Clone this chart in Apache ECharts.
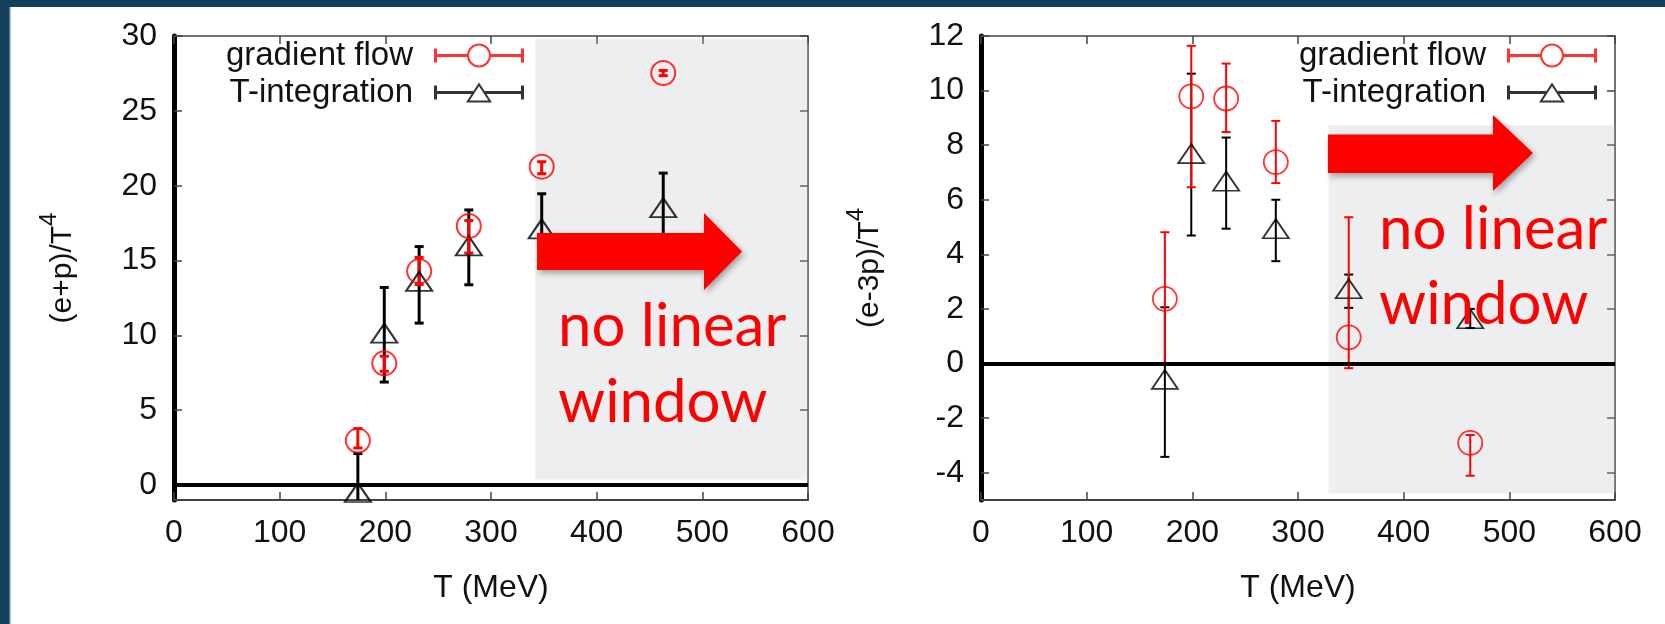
<!DOCTYPE html>
<html>
<head>
<meta charset="utf-8">
<script src="https://cdn.jsdelivr.net/npm/echarts@6/dist/echarts.min.js"></script>
<style>
  html, body { margin: 0; padding: 0; background: #fff; }
  #main { width: 1665px; height: 624px; }
</style>
</head>
<body>
<div id="main"></div>
<script>
// temperatures (MeV), shared by both panels
const temps = [174, 199, 232, 279, 348, 463];

// left panel: (e+p)/T^4
const gfEp = [2.97, 8.13, 14.29, 17.31, 21.27, 27.53];
const gfEpLow = [2.48, 7.6, 13.4, 15.5, 20.8, 27.35];
const gfEpHigh = [3.77, 8.6, 15.2, 17.67, 21.6, 27.7];
const tiEp = [-0.5, 10.15, 13.6, 15.98, 17.12, 18.53];
const tiEpLow = [-3.0, 6.88, 10.82, 13.38, 14.7, 16.2];
const tiEpHigh = [2.1, 13.2, 15.93, 18.38, 19.46, 20.84];

// right panel: (e-3p)/T^4
const gfE3p = [2.37, 9.79, 9.71, 7.38, 0.96, -2.91];
const gfE3pLow = [-0.04, 6.46, 8.48, 6.61, -0.17, -4.11];
const gfE3pHigh = [4.81, 11.64, 10.99, 8.89, 5.36, -2.62];
const tiE3p = [-0.58, 7.69, 6.68, 4.94, 2.74, 1.64];
const tiE3pLow = [-3.42, 4.69, 4.94, 3.75, 2.04, 1.3];
const tiE3pHigh = [2.06, 10.62, 8.28, 6.0, 3.26, 2.0];

// tick labels
const xTicks = [0, 100, 200, 300, 400, 500, 600];
const yTicksLeft = [0, 5, 10, 15, 20, 25, 30];
const yTicksRight = [-4, -2, 0, 2, 4, 6, 8, 10, 12];

// "no linear window" shaded regions [xFrom, yFrom, xTo, yTo]
const shadeLeft = [342, 0.37, 600, 29.8];
const shadeRight = [329, -4.76, 609, 8.73];

const RED = "#ff0000";
const FONT = "Liberation Sans";

// gnuplot-like legend samples: errorbar with the point in the middle
const ICON_CIRCLE =
  "path://M0,5 L3,5 L3,10.5 L34,10.5 L34,13.5 L3,13.5 L3,19 L0,19 Z " +
  "M56,10.5 L87,10.5 L87,5 L90,5 L90,19 L87,19 L87,13.5 L56,13.5 Z " +
  "M33,12 A12,12 0 1,1 57,12 A12,12 0 1,1 33,12 Z " +
  "M35,12 A10,10 0 1,0 55,12 A10,10 0 1,0 35,12 Z";
const ICON_TRIANGLE =
  "path://M0,5 L3,5 L3,10.5 L39,10.5 L39,13.5 L3,13.5 L3,19 L0,19 Z " +
  "M51,10.5 L87,10.5 L87,5 L90,5 L90,19 L87,19 L87,13.5 L51,13.5 Z " +
  "M45,2 L58,22 L32,22 Z M45,5.8 L35.6,20 L54.4,20 Z";

function points(ys) {
  return temps.map((t, i) => [t, ys[i]]);
}

function bars(lo, hi) {
  return temps.map((t, i) => [t, lo[i], hi[i]]);
}

function errorBar(color, lw, cap) {
  return function (params, api) {
    const x = api.value(0);
    const a = api.coord([x, api.value(1)]);
    const b = api.coord([x, api.value(2)]);
    const st = { stroke: color, lineWidth: lw };
    return {
      type: "group",
      children: [
        { type: "line", shape: { x1: a[0], y1: a[1], x2: b[0], y2: b[1] }, style: st },
        { type: "line", shape: { x1: a[0] - cap / 2, y1: a[1], x2: a[0] + cap / 2, y2: a[1] }, style: st },
        { type: "line", shape: { x1: b[0] - cap / 2, y1: b[1], x2: b[0] + cap / 2, y2: b[1] }, style: st }
      ]
    };
  };
}

function xAxes(grid) {
  return [
    {
      gridIndex: grid, type: "value", min: 0, max: 600, interval: 100,
      name: "T (MeV)", nameLocation: "middle", nameGap: 72,
      nameTextStyle: { fontSize: 32, fontFamily: FONT, color: "#111" },
      axisLine: { onZero: false, lineStyle: { color: "#444", width: 2 } },
      axisTick: { inside: true, length: 8, lineStyle: { color: "#444", width: 1.5 } },
      axisLabel: { margin: 17, fontSize: 32, fontFamily: FONT, color: "#111" },
      splitLine: { show: false }
    },
    {
      gridIndex: grid, type: "value", position: "top", min: 0, max: 600, interval: 100,
      axisLine: { onZero: false, lineStyle: { color: "#444", width: 1.5 } },
      axisTick: { inside: true, length: 8, lineStyle: { color: "#444", width: 1.5 } },
      axisLabel: { show: false },
      splitLine: { show: false }
    }
  ];
}

function yAxes(grid, min, max, ticks, name) {
  return [
    {
      gridIndex: grid, type: "value", min: min, max: max,
      name: name, nameLocation: "middle", nameGap: 96, nameRotate: 90,
      nameTextStyle: {
        fontFamily: FONT, color: "#111",
        rich: {
          a: { fontSize: 30, fontFamily: FONT, color: "#111", lineHeight: 30, verticalAlign: "bottom" },
          s: { fontSize: 24, fontFamily: FONT, color: "#111", lineHeight: 41, verticalAlign: "top" }
        }
      },
      axisLine: { onZero: false, lineStyle: { color: "#000", width: 5 } },
      axisTick: { inside: true, length: 8, customValues: ticks, lineStyle: { color: "#444", width: 1.5 } },
      axisLabel: { margin: 17, fontSize: 32, fontFamily: FONT, color: "#111", customValues: ticks },
      splitLine: { show: false }
    },
    {
      gridIndex: grid, type: "value", position: "right", min: min, max: max,
      axisLine: { onZero: false, lineStyle: { color: "#444", width: 1.5 } },
      axisTick: { inside: true, length: 8, customValues: ticks, lineStyle: { color: "#444", width: 1.5 } },
      axisLabel: { show: false },
      splitLine: { show: false }
    }
  ];
}

function legendFor(right) {
  return {
    orient: "vertical", right: right, top: 39, align: "right", padding: 0,
    itemWidth: 90, itemHeight: 24, itemGap: 4, selectedMode: false,
    textStyle: { fontSize: 33, fontFamily: FONT, color: "#111", padding: [0, 16, 0, 0] },
    data: [
      { name: "gradient flow", icon: ICON_CIRCLE, itemStyle: { color: RED, borderWidth: 0 } },
      { name: "T-integration", icon: ICON_TRIANGLE, itemStyle: { color: "#000", borderWidth: 0 } }
    ]
  };
}

function panelSeries(p) {
  // p: { xi, yi, gf, gfLo, gfHi, ti, tiLo, tiHi, shade, shadeZ, lw, ring }
  return [
    {
      type: "scatter", xAxisIndex: p.xi, yAxisIndex: p.yi, data: [], silent: true, clip: false, z: p.shadeZ,
      markArea: {
        silent: true,
        itemStyle: { color: "rgba(180,190,194,0.26)" },
        data: [[{ xAxis: p.shade[0], yAxis: p.shade[1] }, { xAxis: p.shade[2], yAxis: p.shade[3] }]]
      }
    },
    {
      type: "scatter", xAxisIndex: p.xi, yAxisIndex: p.yi, data: [], silent: true, z: 2,
      markLine: {
        silent: true, symbol: "none", label: { show: false },
        lineStyle: { color: "#000", width: 4, type: "solid" },
        data: [{ yAxis: 0 }]
      }
    },
    {
      type: "custom", xAxisIndex: p.xi, yAxisIndex: p.yi, z: 3, silent: true, clip: true,
      data: bars(p.tiLo, p.tiHi), encode: { x: 0, y: [1, 2] },
      renderItem: errorBar("#000", p.lw, 9)
    },
    {
      type: "custom", xAxisIndex: p.xi, yAxisIndex: p.yi, z: 3, silent: true, clip: true,
      data: bars(p.gfLo, p.gfHi), encode: { x: 0, y: [1, 2] },
      renderItem: errorBar(RED, p.lw, 9)
    },
    {
      name: "T-integration", type: "scatter", xAxisIndex: p.xi, yAxisIndex: p.yi, z: 4, silent: true,
      symbol: "triangle", symbolSize: [26, 19],
      itemStyle: { color: "rgba(0,0,0,0)", borderColor: "#000", borderWidth: p.ring },
      data: points(p.ti)
    },
    {
      name: "gradient flow", type: "scatter", xAxisIndex: p.xi, yAxisIndex: p.yi, z: 4, silent: true,
      symbol: "circle", symbolSize: 24,
      itemStyle: { color: "rgba(0,0,0,0)", borderColor: RED, borderWidth: p.ring },
      data: points(p.gf)
    }
  ];
}

function arrow(pts) {
  return {
    type: "polygon", z: 100, silent: true,
    shape: { points: pts },
    style: { fill: RED, shadowBlur: 6, shadowOffsetX: 2, shadowOffsetY: 3, shadowColor: "rgba(0,0,0,0.35)" }
  };
}

function note(text, x, y) {
  return {
    type: "text", z: 101, silent: true, x: x, y: y,
    style: { text: text, font: "60px Lato", fill: RED, align: "left", verticalAlign: "middle" }
  };
}

const chart = echarts.init(document.getElementById("main"));

const option = {
  animation: false,
  backgroundColor: "#fff",
  grid: [
    { left: 174, right: 857, top: 36, bottom: 124 },
    { left: 981, right: 50, top: 36, bottom: 124 }
  ],
  xAxis: [...xAxes(0), ...xAxes(1)],
  yAxis: [
    ...yAxes(0, -1, 30, yTicksLeft, "{a|(e+p)/T}{s|4}"),
    ...yAxes(1, -5, 12, yTicksRight, "{a|(e-3p)/T}{s|4}")
  ],
  legend: [legendFor(1141), legendFor(68)],
  series: [
    ...panelSeries({
      xi: 0, yi: 0, gf: gfEp, gfLo: gfEpLow, gfHi: gfEpHigh,
      ti: tiEp, tiLo: tiEpLow, tiHi: tiEpHigh, shade: shadeLeft, shadeZ: 1, lw: 3, ring: 2
    }),
    ...panelSeries({
      xi: 2, yi: 2, gf: gfE3p, gfLo: gfE3pLow, gfHi: gfE3pHigh,
      ti: tiE3p, tiLo: tiE3pLow, tiHi: tiE3pHigh, shade: shadeRight, shadeZ: 10, lw: 2, ring: 1.8
    })
  ],
  graphic: [
    // slide frame
    { type: "rect", z: 200, silent: true, shape: { x: 0, y: 0, width: 9, height: 624 }, style: { fill: "#12405a" } },
    { type: "rect", z: 200, silent: true, shape: { x: 9, y: 7, width: 1.5, height: 617 }, style: { fill: "#5d8399" } },
    { type: "rect", z: 200, silent: true, shape: { x: 0, y: 0, width: 1665, height: 7 }, style: { fill: "#12405a" } },
    // annotations
    arrow([[537, 233], [704, 233], [704, 213], [742, 251.5], [704, 290], [704, 270], [537, 270]]),
    arrow([[1328, 134.5], [1493, 134.5], [1493, 115], [1533, 153], [1493, 191], [1493, 173], [1328, 173]]),
    note("no linear", 558, 327),
    note("window", 558, 403),
    note("no linear", 1379, 230),
    note("window", 1379, 305)
  ]
};

chart.setOption(option);
window.addEventListener("resize", () => chart.resize());
</script>
</body>
</html>
